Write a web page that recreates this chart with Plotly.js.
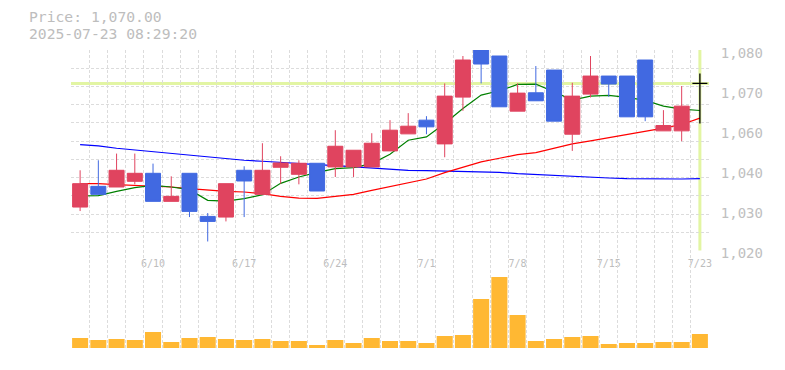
<!DOCTYPE html>
<html>
<head>
<meta charset="utf-8">
<script src="https://cdn.plot.ly/plotly-3.0.1.min.js"></script>
<style>html,body{margin:0;padding:0;background:#fff;}#chart{width:785px;height:370px;}</style>
</head>
<body>
<div id="chart"></div>
<script>
// ---- data ----
const dates = ['6/4','6/5','6/6','6/9','6/10','6/11','6/12','6/13','6/16','6/17',
  '6/18','6/19','6/20','6/23','6/24','6/25','6/26','6/27','6/30','7/1',
  '7/2','7/3','7/4','7/7','7/8','7/9','7/10','7/11','7/14','7/15',
  '7/16','7/17','7/18','7/22','7/23'];
const labeledDates = ['6/10','6/17','6/24','7/1','7/8','7/15','7/23'];
const open  = [1033.0,1039.2,1039.0,1040.7,1043.1,1034.7,1043.1,1030.2,1030.0,1044.0,
  1036.8,1044.9,1042.8,1046.1,1045.0,1045.0,1045.0,1049.8,1054.9,1059.0,
  1051.9,1065.9,1080.0,1078.2,1061.7,1067.2,1074.0,1054.8,1066.8,1072.2,
  1072.2,1077.0,1055.8,1055.8,1070.0];
const high  = [1044.0,1047.0,1049.0,1049.0,1046.0,1042.2,1043.1,1031.2,1040.0,1045.2,
  1052.1,1048.2,1047.0,1046.1,1056.0,1050.0,1055.1,1059.0,1061.1,1060.2,
  1070.0,1078.2,1080.0,1078.2,1070.0,1075.2,1074.0,1070.2,1078.2,1072.2,
  1072.2,1077.0,1062.0,1069.2,1073.0];
const low   = [1031.8,1036.8,1039.0,1039.8,1034.7,1034.7,1030.0,1022.7,1028.7,1030.0,
  1036.8,1040.0,1039.8,1037.8,1042.0,1042.0,1045.0,1049.8,1054.9,1054.8,
  1047.9,1061.8,1070.0,1063.0,1061.7,1064.8,1058.7,1049.8,1065.8,1066.0,
  1060.0,1058.7,1055.8,1052.7,1058.0];
const close = [1040.0,1036.8,1044.0,1043.1,1034.7,1036.2,1031.7,1028.7,1040.0,1040.8,
  1044.0,1046.2,1046.1,1037.8,1051.2,1050.0,1052.1,1056.0,1057.2,1057.0,
  1066.2,1077.0,1075.8,1063.0,1067.1,1064.8,1058.7,1066.2,1072.2,1069.8,
  1060.0,1060.0,1057.4,1063.2,1070.0];
const ma5  = [1036.3,1036.4,1037.7,1038.8,1039.5,1039.0,1038.2,1035.0,1034.8,1035.5,
  1036.7,1040.1,1042.0,1043.4,1044.5,1044.8,1046.0,1048.8,1053.0,1054.0,
  1058.0,1062.5,1066.5,1067.8,1069.7,1069.8,1067.5,1065.0,1066.2,1066.4,
  1065.8,1064.9,1063.2,1062.3,1061.9];
const ma25 = [1040.0,1040.0,1039.7,1039.5,1039.3,1039.0,1038.5,1038.0,1037.7,1037.5,
  1037.0,1036.2,1035.7,1035.6,1036.1,1036.8,1038.0,1039.2,1040.4,1041.4,
  1043.3,1045.0,1046.5,1047.6,1048.7,1049.3,1050.5,1051.9,1052.8,1053.7,
  1054.8,1055.7,1056.6,1057.7,1059.6];
const ma75 = [1051.7,1051.3,1050.6,1050.1,1049.6,1048.9,1048.4,1047.9,1047.4,1047.0,
  1046.7,1046.3,1046.0,1045.7,1045.4,1045.0,1044.6,1044.3,1044.0,1043.9,
  1043.8,1043.8,1043.6,1043.4,1043.0,1042.7,1042.4,1042.1,1042.0,1041.7,
  1041.5,1041.4,1041.4,1041.4,1041.5];
const volume = [10,8,9,8,16,6,10,11,9,8,
  9,7,7,3,8,5,10,7,7,5,
  12,13,49,71,33,7,9,11,12,4,
  5,5,6,6,14];
const currentPrice = 1070.00;
const timestamp = '2025-07-23 08:29:20';
const priceTickVals = [1080,1068,1056,1044,1032,1020];
const priceTickText = ['1,080','1,070','1,060','1,040','1,030','1,020'];

// ---- build ----
const idx = dates.map((d,i)=>i);
const nHist = dates.length - 1;
const last = nHist;
const mono = 'DejaVu Sans Mono, monospace';
const gridStyle = {gridcolor:'#dcdcdc', griddash:'3px,2px', gridwidth:1};
const upColor = '#e0445f', downColor = '#4169e1';

const traces = [
  {type:'scatter', mode:'lines', x:idx, y:ma75, line:{color:'#0000ff', width:1.2}, zorder:-1, xaxis:'x', yaxis:'y'},
  {type:'scatter', mode:'lines', x:idx, y:ma25, line:{color:'#ff0000', width:1.2}, zorder:-1, xaxis:'x', yaxis:'y'},
  {type:'scatter', mode:'lines', x:idx, y:ma5, line:{color:'#008000', width:1.2}, zorder:-1, xaxis:'x', yaxis:'y'},
  {type:'candlestick', x:idx.slice(0,nHist), open:open.slice(0,nHist), high:high.slice(0,nHist),
    low:low.slice(0,nHist), close:close.slice(0,nHist),
    increasing:{line:{color:upColor, width:1}, fillcolor:upColor},
    decreasing:{line:{color:downColor, width:1}, fillcolor:downColor},
    xaxis:'x', yaxis:'y'},
  {type:'candlestick', x:idx.slice(nHist), open:open.slice(nHist), high:high.slice(nHist),
    low:low.slice(nHist), close:close.slice(nHist),
    increasing:{line:{color:'#000', width:1.3}, fillcolor:'#000'},
    decreasing:{line:{color:'#000', width:1.3}, fillcolor:'#000'},
    xaxis:'x', yaxis:'y'},
  {type:'bar', x:idx, y:volume, width:0.88, marker:{color:'#ffb833', line:{width:0}}, xaxis:'x2', yaxis:'y2'}
];

const layout = {
  width:785, height:370,
  margin:{l:71, r:76, t:50, b:20},
  paper_bgcolor:'#fff', plot_bgcolor:'#fff',
  showlegend:false, hovermode:false,
  boxgap:0.177, boxgroupgap:0,
  xaxis:{domain:[0,1], range:[-0.5, last+0.5], anchor:'y', showline:true, linecolor:'#c4c4c4', linewidth:1,
    showgrid:false, zeroline:false, ticks:'', rangeslider:{visible:false},
    tickvals: labeledDates.map(d=>dates.indexOf(d)), ticktext: labeledDates,
    tickfont:{family:mono, size:10, color:'#bdbdbd'}, ticklabelstandoff:4,
    minor:Object.assign({tick0:-0.5, dtick:1, showgrid:true, ticks:''}, gridStyle)},
  yaxis:{domain:[0.3317,1], range:[1020,1080], side:'right', anchor:'x', showline:true, linecolor:'#c4c4c4', linewidth:1,
    showgrid:false, zeroline:false, ticks:'',
    tickvals:priceTickVals, ticktext:priceTickText,
    tickfont:{family:mono, size:14, color:'#c0c0c0'}, ticklabelstandoff:8, ticklabelshift:3,
    minor:Object.assign({tick0:1020, dtick:60/11, showgrid:true, ticks:''}, gridStyle)},
  xaxis2:{domain:[0,1], matches:'x', anchor:'y2', showline:true, linecolor:'#c4c4c4', linewidth:1,
    showgrid:false, zeroline:false, showticklabels:false, ticks:'',
    minor:Object.assign({tick0:-0.5, dtick:1, showgrid:true, ticks:''}, gridStyle)},
  yaxis2:{domain:[0,0.3317], range:[-2,97.5], side:'right', anchor:'x2', showline:true, linecolor:'#c4c4c4', linewidth:1,
    showgrid:false, zeroline:false, showticklabels:false, ticks:''},
  shapes:[
    {type:'line', layer:'below', xref:'x domain', x0:0, x1:1, yref:'y', y0:currentPrice, y1:currentPrice,
      line:{color:'#e2f5a3', width:3}},
    {type:'line', layer:'below', xref:'x', x0:last, x1:last, yref:'y domain', y0:0, y1:1,
      line:{color:'#e2f5a3', width:3}}
  ],
  annotations:[
    {xref:'paper', yref:'paper', x:(28-71)/638, y:(350-17)/300, xanchor:'left', yanchor:'middle', showarrow:false,
      height:15, borderpad:0,
      text:'Price: ' + currentPrice.toLocaleString('en-US',{minimumFractionDigits:2, maximumFractionDigits:2}),
      font:{family:mono, size:14.7, color:'#bdbdbd'}},
    {xref:'paper', yref:'paper', x:(28-71)/638, y:(350-33)/300, xanchor:'left', yanchor:'middle', showarrow:false,
      height:15, borderpad:0,
      text:timestamp, font:{family:mono, size:14.7, color:'#bdbdbd'}}
  ]
};

Plotly.newPlot('chart', traces, layout, {displayModeBar:false, staticPlot:true});
</script>
</body>
</html>
